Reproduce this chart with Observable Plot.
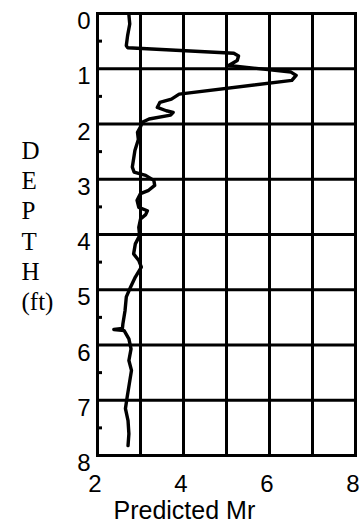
<!DOCTYPE html>
<html>
<head>
<meta charset="utf-8">
<script src="https://cdn.jsdelivr.net/npm/d3@7"></script>
<script src="https://cdn.jsdelivr.net/npm/@observablehq/plot@0.6"></script>
<style>
  html, body { margin: 0; padding: 0; background: #fff; }
</style>
</head>
<body>
<div id="chart"></div>
<script>
// Depth (ft) and predicted Mr
const depth = [0.02, 0.19, 0.40, 0.58, 0.62, 0.72, 0.77, 0.85, 0.94, 1.06, 1.12, 1.21,
  1.46, 1.55, 1.61, 1.70, 1.76, 1.79, 1.84, 1.91, 1.97, 2.05, 2.15, 2.28, 2.48, 2.78,
  2.87, 2.93, 3.02, 3.11, 3.20, 3.26, 3.38, 3.51, 3.57, 3.64, 3.72, 3.87, 4.02, 4.17,
  4.35, 4.47, 4.59, 4.77, 4.95, 5.13, 5.38, 5.62, 5.70, 5.72, 5.74, 5.89, 6.07, 6.28,
  6.46, 6.70, 6.94, 7.15, 7.37, 7.61, 7.82];
const mr = [2.73, 2.75, 2.70, 2.67, 2.70, 5.17, 5.28, 5.25, 5.05, 6.50, 6.62, 6.52,
  3.90, 3.72, 3.45, 3.39, 3.60, 3.76, 3.70, 3.20, 3.04, 3.00, 2.93, 2.95, 2.87, 2.81,
  2.85, 3.12, 3.31, 3.33, 3.19, 3.00, 2.92, 2.96, 3.16, 3.12, 3.00, 2.96, 2.98, 2.88,
  2.84, 2.96, 3.02, 2.88, 2.77, 2.67, 2.64, 2.59, 2.58, 2.38, 2.62, 2.73, 2.78, 2.73,
  2.79, 2.74, 2.69, 2.65, 2.71, 2.73, 2.71];

const xTickLabels = [2, 4, 6, 8];
const yTickLabels = [0, 1, 2, 3, 4, 5, 6, 7, 8];
const xGrid = [2, 3, 4, 5, 6, 7, 8];
const yGrid = [0, 1, 2, 3, 4, 5, 6, 7, 8];
const yMinor = [0.5, 1.5, 2.5, 3.5, 4.5, 5.5, 6.5, 7.5];
const xTitle = "Predicted Mr";
const yTitle = "D\nE\nP\nT\nH\n(ft)";

const data = depth.map((d, i) => ({depth: d, mr: mr[i]}));

const sans = "'Liberation Sans', Arial, Helvetica, sans-serif";
const serif = "'Liberation Serif', 'Times New Roman', Times, serif";
const intFmt = d3.format("d");

const chart = Plot.plot({
  width: 360,
  height: 523,
  marginTop: 13,
  marginRight: 5,
  marginBottom: 68,
  marginLeft: 97,
  style: {background: "#fff", color: "#000", fontFamily: sans},
  x: {domain: [2, 8], label: null},
  y: {domain: [0, 8], reverse: true, label: null},
  marks: [
    Plot.gridX(xGrid, {stroke: "#000", strokeOpacity: 1, strokeWidth: 3}),
    Plot.gridY(yGrid, {stroke: "#000", strokeOpacity: 1, strokeWidth: 3}),
    Plot.frame({stroke: "#000", strokeWidth: 3}),
    Plot.axisY(yMinor, {tickSize: 5, dx: 5, strokeWidth: 3, tickFormat: () => "", label: null}),
    Plot.axisY(yTickLabels, {tickSize: 0, tickPadding: 7, fontSize: 24, dy: 8,
      tickFormat: intFmt, label: null}),
    Plot.axisX(xTickLabels, {tickSize: 0, tickPadding: 19, fontSize: 24, dx: -2.5,
      tickFormat: intFmt, label: null}),
    Plot.line(data, {x: "mr", y: "depth", stroke: "#000", strokeWidth: 3.4,
      strokeLinejoin: "round", strokeLinecap: "round"}),
    Plot.text([xTitle], {text: d => d, frameAnchor: "bottom-left", dx: 16, dy: 46,
      textAnchor: "start", lineAnchor: "top", fontSize: 25, fill: "#000"}),
    Plot.text([yTitle], {text: d => d, frameAnchor: "top-left", dx: -76, dy: 124,
      textAnchor: "start", lineAnchor: "top", lineHeight: 1.21, fontSize: 25,
      fontFamily: serif, fill: "#000"})
  ]
});
document.getElementById("chart").appendChild(chart);
</script>
</body>
</html>
